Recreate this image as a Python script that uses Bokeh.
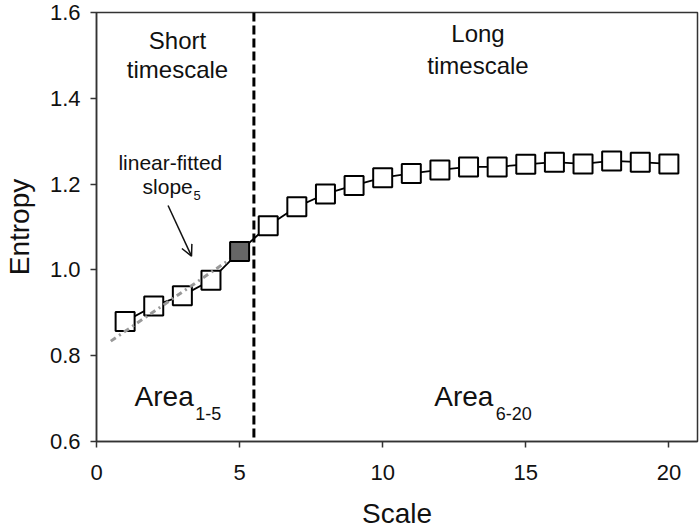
from bokeh.plotting import figure
from bokeh.models import (Span, Arrow, OpenHead, FixedTicker, PrintfTickFormatter,
                          ColumnDataSource, Range1d)
from bokeh.core.properties import value
from bokeh.embed import file_html
from bokeh.resources import INLINE

# ---- data ----
scale = [1, 2, 3, 4, 5, 6, 7, 8, 9, 10, 11, 12, 13, 14, 15, 16, 17, 18, 19, 20]
entropy = [0.880, 0.916, 0.940, 0.976, 1.043, 1.103, 1.147, 1.177, 1.197, 1.215,
           1.225, 1.233, 1.240, 1.240, 1.246, 1.251, 1.247, 1.254, 1.251, 1.247]
highlight_scale = 5
fit_x = [0.5, 4.65]
fit_y = [0.834, 1.024]
boundary = 5.5
x_ticks = [0, 5, 10, 15, 20]
y_ticks = [0.6, 0.8, 1.0, 1.2, 1.4, 1.6]

FONT = "Liberation Sans"
TXT = "#111111"

p = figure(width=700, height=531, output_backend="svg", toolbar_location=None,
           x_range=Range1d(0, 21), y_range=Range1d(0.6, 1.6),
           min_border_left=95, min_border_right=3, min_border_top=12, min_border_bottom=88)
p.grid.visible = False
p.outline_line_color = "#333333"
p.outline_line_width = 1.5
p.background_fill_color = "white"
p.border_fill_color = "white"

for ax in (p.xaxis[0], p.yaxis[0]):
    ax.axis_line_color = "#333333"
    ax.axis_line_width = 1.5
    ax.major_tick_line_color = "#333333"
    ax.major_tick_line_width = 1.5
    ax.major_tick_out = 6
    ax.major_tick_in = 0
    ax.minor_tick_line_color = None
    ax.major_label_text_font = FONT
    ax.major_label_text_font_size = "22px"
    ax.major_label_text_color = TXT
    ax.axis_label_text_font = FONT
    ax.axis_label_text_font_size = "28px"
    ax.axis_label_text_font_style = "normal"
    ax.axis_label_text_color = TXT

p.xaxis.ticker = FixedTicker(ticks=x_ticks)
p.yaxis.ticker = FixedTicker(ticks=y_ticks)
p.yaxis.formatter = PrintfTickFormatter(format="%.1f")
p.xaxis.axis_label = "Scale"
p.yaxis.axis_label = "Entropy"
p.xaxis.major_label_standoff = 17
p.xaxis.axis_label_standoff = 15
p.yaxis.major_label_standoff = 10
p.yaxis.axis_label_standoff = 12

# boundary line
p.add_layout(Span(location=boundary, dimension="height", line_color="black",
                  line_width=3, line_dash="9 4"))

src = ColumnDataSource(dict(
    x=scale, y=entropy,
    fill=["#666666" if s == highlight_scale else "white" for s in scale]))

p.line("x", "y", source=src, line_color="black", line_width=1.8)
p.scatter("x", "y", source=src, marker="square", size=19, fill_color="fill",
          line_color="black", line_width=2)
p.line(fit_x, fit_y, line_color="#999999", line_width=3, line_dash="dashdot")

# annotations
def txt(x, y, s, size, align="center"):
    p.text(x=[x], y=[y], text=[s], text_font=value(FONT), text_font_size=size,
           text_align=align, text_baseline="alphabetic", text_color=TXT)

txt(2.83, 1.535, "Short", "24px")
txt(2.83, 1.467, "timescale", "24px")
txt(13.33, 1.551, "Long", "24px")
txt(13.33, 1.476, "timescale", "24px")
txt(2.58, 1.250, "linear-fitted", "21px")
txt(1.61, 1.194, "slope", "21px", "left")
txt(3.39, 1.173, "5", "13px", "left")
txt(1.33, 0.706, "Area", "28px", "left")
txt(3.45, 0.666, "1-5", "18px", "left")
txt(11.80, 0.706, "Area", "28px", "left")
txt(13.95, 0.666, "6-20", "18px", "left")

p.add_layout(Arrow(end=OpenHead(size=11, line_width=1.5, line_color="#111111"),
                   x_start=2.50, y_start=1.150, x_end=3.32, y_end=1.032,
                   line_width=1.5, line_color="#111111"))

open("out.html", "w").write(file_html(p, INLINE))
